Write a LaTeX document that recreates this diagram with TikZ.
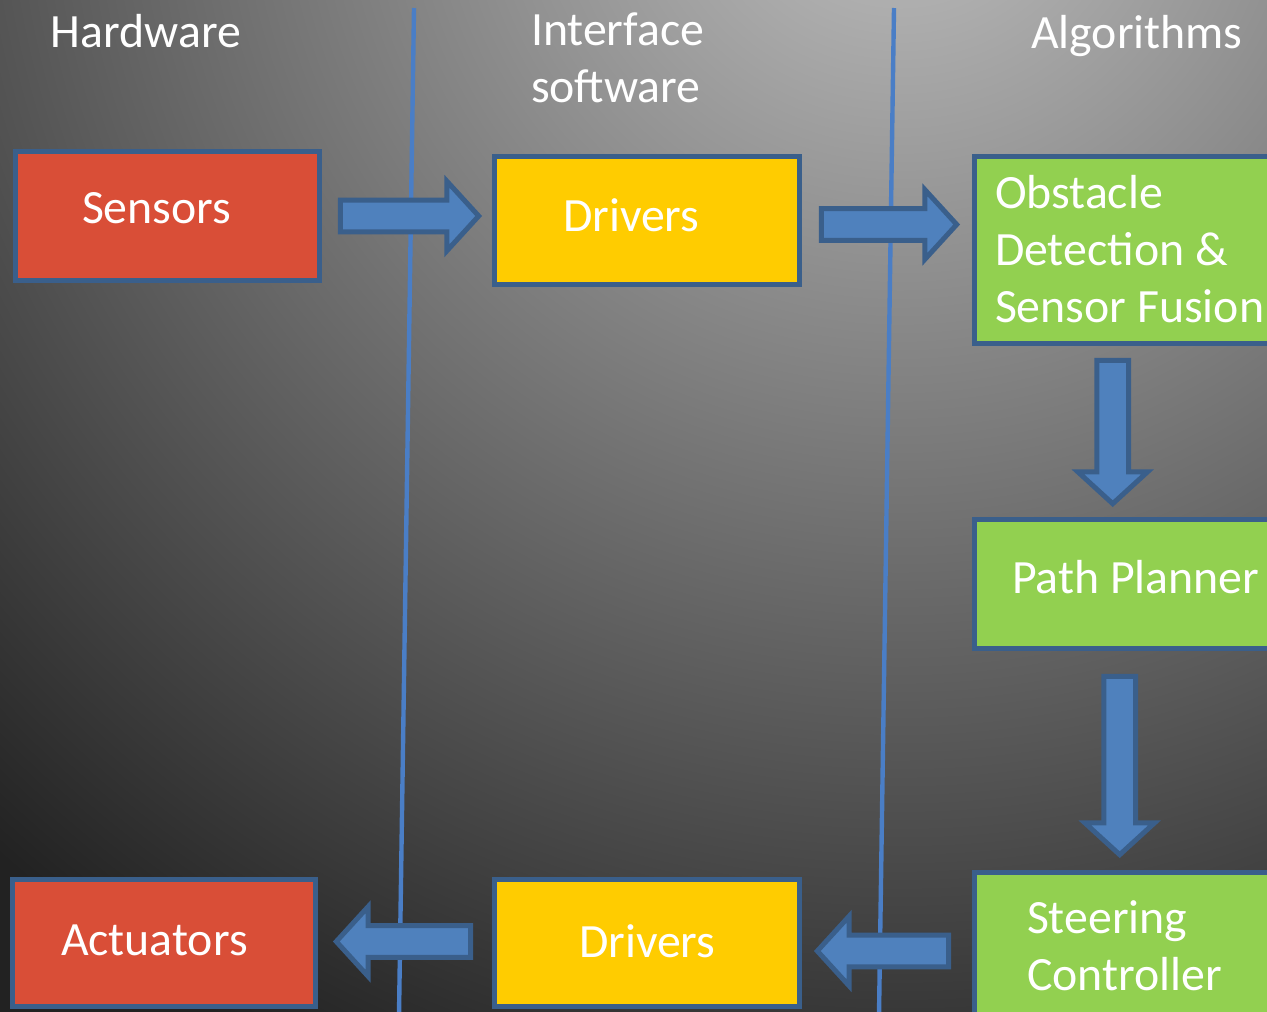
\documentclass[tikz,border=0pt]{standalone}
\usepackage{fontspec}
\setmainfont{Carlito}
\usetikzlibrary{calc,fit}

\definecolor{boxedge}{HTML}{3A5F8B}
\definecolor{arrowfill}{HTML}{4F81BD}
\definecolor{laneline}{HTML}{4A7EC6}
\definecolor{hwred}{HTML}{D94E37}
\definecolor{drvyellow}{HTML}{FFCC00}
\definecolor{algogreen}{HTML}{92D050}
\definecolor{bglight}{RGB}{192,192,192}
\definecolor{bgdark}{RGB}{34,34,34}

% light centre fading to dark; the dark tone is reached at 1350 of the 1800 radius
\pgfdeclareradialshading{backdrop}{\pgfpointorigin}{color(0bp)=(bglight); color(18.75bp)=(bgdark); color(50bp)=(bgdark)}

% block arrow from #1 (tail) to #2 (tip)
\newcommand\drawflowarrow[2]{%
  \path ($(#2)!18.1pt!(#1)$) coordinate (fa-base);
  \draw[flowarrow]
    ($(#1)!9.07pt!90:(#2)$) -- ($(fa-base)!9.07pt!90:(#2)$)
    -- ($(fa-base)!19.8pt!90:(#2)$) -- (#2)
    -- ($(fa-base)!19.8pt!-90:(#2)$) -- ($(fa-base)!9.07pt!-90:(#2)$)
    -- ($(#1)!9.07pt!-90:(#2)$) -- cycle;}

\tikzset{
  box/.style={draw=boxedge, line width=3.12pt, inner sep=0pt, outer sep=0pt, rectangle},
  hwbox/.style={box, fill=hwred},
  drvbox/.style={box, fill=drvyellow},
  algbox/.style={box, fill=algogreen},
  lbl/.style={text=white, inner sep=0pt, outer sep=0pt, align=left},
  flowarrow/.style={draw=boxedge, fill=arrowfill, line width=2.83pt, line join=miter},
  lane/.style={draw=laneline, line width=2.5pt},
}

\begin{document}
\begin{tikzpicture}[x=0.02cm, y=-0.02cm,
  font=\fontsize{27.2pt}{32.3pt}\selectfont]
\useasboundingbox (0,0) rectangle (1267,1011);
\begin{scope}
\clip (0,0) rectangle (1267,1011);
% backdrop
\shade[shading=backdrop] (900,-150) circle[radius=1800];

% lane separators
\coordinate (lane1top) at (414,8);
\coordinate (lane1bot) at (399,1015);
\coordinate (lane2top) at (894,8);
\coordinate (lane2bot) at (879,1015);
\draw[lane] (lane1top) -- (lane1bot);
\draw[lane] (lane2top) -- (lane2bot);

% column headings (multi-line labels are placed by their last baseline)
\node[lbl, anchor=base west] (hdr-hw) at (51,47) {Hardware};
\node[lbl, anchor=base west] (hdr-if) at (531,102) {Interface\\software};
\node[lbl, anchor=base west] (hdr-alg) at (1031,48) {Algorithms};

% boxes
\node[hwbox, fit={(15.7,151.7) (319.3,280.3)}] (sensors) {};
\node[drvbox, fit={(494.7,156.7) (799.3,284.3)}] (drvA) {};
\node[algbox, fit={(974.7,156.7) (1300,343.3)}] (obst) {};
\node[algbox, fit={(974.7,519.7) (1300,648.3)}] (plan) {};
\node[algbox, fit={(974.7,872.7) (1300,1100)}] (steer) {};
\node[hwbox, fit={(12.7,879.7) (315.3,1006.3)}] (act) {};
\node[drvbox, fit={(494.7,879.7) (799.3,1006.3)}] (drvB) {};

% box labels
\node[lbl, anchor=base west] (t-sens) at (82,223) {Sensors};
\node[lbl, anchor=base west] (t-drvA) at (563,231) {Drivers};
\node[lbl, anchor=base west] (t-obst) at (995,322) {Obstacle\\Detection \&\\Sensor Fusion};
\node[lbl, anchor=base west] (t-plan) at (1012,593) {Path Planner};
\node[lbl, anchor=base west] (t-steer) at (1027,990) {Steering\\Controller};
\node[lbl, anchor=base west] (t-act) at (61,955) {Actuators};
\node[lbl, anchor=base west] (t-drvB) at (579,957) {Drivers};

% flow arrows
\coordinate (a1s) at ($(sensors.east)+(21,0)$);
\coordinate (a1e) at ($(a1s -| drvA.west)+(-16,0)$);
\coordinate (a2s) at ($(drvA.east)+(22,4)$);
\coordinate (a2e) at ($(a2s -| obst.west)+(-18,0)$);
\coordinate (a3s) at ($(obst.south west)+(138,17)$);
\coordinate (a3e) at ($(a3s |- plan.north)+(0,-16)$);
\coordinate (a4s) at ($(plan.south west)+(145,28)$);
\coordinate (a4e) at ($(a4s |- steer.north)+(0,-18)$);
\coordinate (a6s) at ($(steer.west |- drvB.east)+(-26,8)$);
\coordinate (a6e) at ($(a6s -| drvB.east)+(18,0)$);
\coordinate (a5s) at ($(drvB.west)+(-24,-1.5)$);
\coordinate (a5e) at ($(a5s -| act.east)+(21,0)$);
\drawflowarrow{a1s}{a1e}
\drawflowarrow{a2s}{a2e}
\drawflowarrow{a3s}{a3e}
\drawflowarrow{a4s}{a4e}
\drawflowarrow{a6s}{a6e}
\drawflowarrow{a5s}{a5e}
\end{scope}
\end{tikzpicture}
\end{document}
